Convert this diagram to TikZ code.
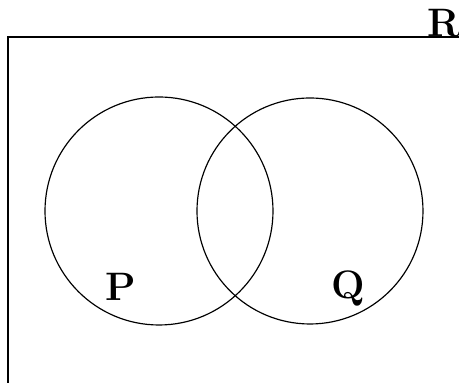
\documentclass[tikz,border=0pt]{standalone}
\usepackage{tikz}
\usetikzlibrary{positioning}

\begin{document}
\begin{tikzpicture}[
        x=0.34pt, y=-0.34pt,
        set/.style={draw, line width=0.4pt},
        universe/.style={draw, line width=0.6pt},
        lbl/.style={font=\fontsize{13.5}{16}\selectfont\bfseries, inner sep=0pt}
    ]
        % Canvas (same size as the reference)
        \useasboundingbox (0,0) rectangle (459,383);
        \clip (0,0) rectangle (459,383);

        % Universal set (runs off the page to the right and bottom)
        \draw[universe] (8,37) rectangle (480,400);
        \node[lbl] (r) at (444,23) {R};

        % Centres of the two sets
        \coordinate (cp) at (159,211);
        \coordinate (cq) at (310,211);

        % Sets P and Q
        \draw[set] (cp) circle (114);
        \draw[set] (cq) circle (113);

        % Labels
        \node[lbl] (p) at (121,287) {P};
        \node[lbl] (q) at (348,289) {Q};
    \end{tikzpicture}
\end{document}
